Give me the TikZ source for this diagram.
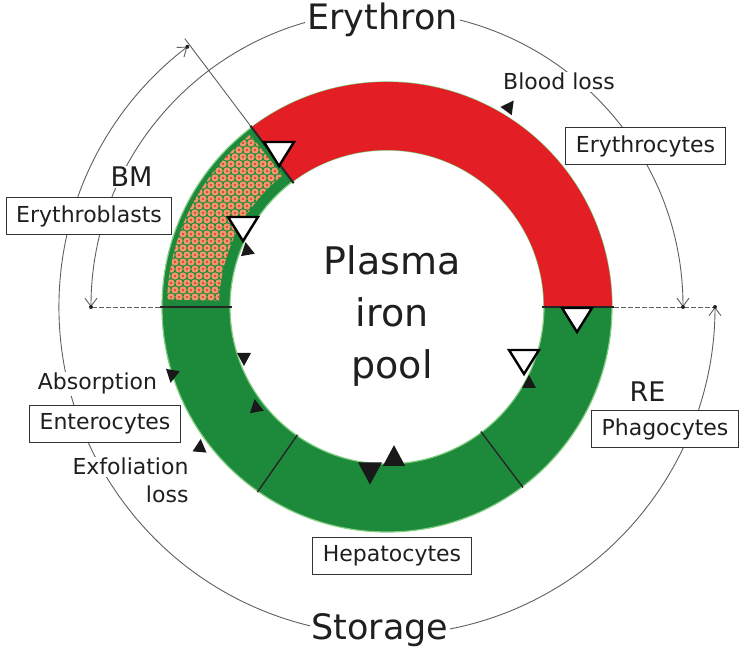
\documentclass[tikz,border=0pt]{standalone}
\usepackage{fontspec}
\setmainfont{DejaVu Sans}
\usetikzlibrary{arrows.meta,calc}
\definecolor{ringred}{RGB}{227,30,36}
\definecolor{ringgreen}{RGB}{28,138,58}
\definecolor{ringedge}{RGB}{130,205,130}
\definecolor{cellfill}{RGB}{242,150,108}
\definecolor{cellcore}{RGB}{214,52,40}
\definecolor{guidegray}{RGB}{95,95,95}
\tikzset{opengate/.pic={\draw[line width=2.4pt,fill=white,line join=miter]
    (-15,8) -- (15,8) -- (0,-16) -- cycle;},
  flowtip/.pic={\fill[black!90] (-7,-5) -- (7,-5) -- (0,8) -- cycle;}}

\begin{document}
\begin{tikzpicture}[x=1pt,y=1pt,text=black!88,
    guide/.style={draw=guidegray,line width=0.9pt},
    span/.style={guide,{Straight Barb[length=8pt,width=12pt]}-{Straight Barb[length=8pt,width=12pt]}},
    cellbox/.style={draw=black!80,line width=1.1pt,fill=white,inner xsep=10pt,
        minimum height=37pt,font=\fontsize{22}{26}\selectfont},
    smalltext/.style={fill=white,inner sep=1.5pt,font=\fontsize{22}{26}\selectfont},
    sitetext/.style={fill=white,inner sep=1.5pt,font=\fontsize{27}{30}\selectfont},
    bigtext/.style={fill=white,inner sep=2pt,font=\fontsize{35}{40}\selectfont},
    divider/.style={line width=2pt,black!85}]
\useasboundingbox (-387,-345) rectangle (355,307);

% guide lines and the two spans
\coordinate (bmcut) at (127:336);
\coordinate (erystart) at (0:296);
\coordinate (eryend) at (180:296);
\coordinate (stostart) at (127.5:328);
\coordinate (stoend) at (0:328);
\draw[guide] (127:227) -- (bmcut);
\draw[guide,dash pattern=on 5pt off 2pt] (180:227) -- (eryend);
\draw[guide,dash pattern=on 5pt off 2pt] (0:227) -- (stoend);
\draw[span] (erystart) arc[start angle=0,end angle=180,radius=296];
\draw[span] (stostart) arc[start angle=127.5,end angle=360,radius=328];
\foreach \p in {erystart,eryend,stostart,stoend}
    \fill[black!85] (\p) circle[radius=2];

% labels
\node[bigtext,anchor=base] (erythron) at (-4.5,277) {Erythron};
\node[bigtext,anchor=base] (storage) at (-7,-333) {Storage};
\node[smalltext,anchor=base] (bloodloss) at (172,217) {Blood loss};
\node[cellbox] (erythrocytes) at (258.5,161) {Erythrocytes};
\node[sitetext,anchor=base] (bm) at (-255.5,120) {BM};
\node[cellbox] (erythroblasts) at (-298,91) {Erythroblasts};
\node[smalltext,anchor=base] (absorption) at (-289.5,-83) {Absorption};
\node[cellbox] (enterocytes) at (-282,-117) {Enterocytes};
\node[smalltext,anchor=base] (exfol) at (-256.5,-168) {Exfoliation};
\node[smalltext,anchor=base east] (exloss) at (exfol.base east |- 0,-196) {loss};
\node[sitetext,anchor=base] (re) at (260.5,-95) {RE};
\node[cellbox] (phagocytes) at (278,-122) {Phagocytes};
\node[cellbox] (hepatocytes) at (5,-249) {Hepatocytes};

% the ring
\fill[ringgreen,draw=ringedge,line width=1.2pt,even odd rule]
    (0,0) circle[radius=225] circle[radius=157];
\fill[ringred] (0:157) arc[start angle=0,end angle=127,radius=157]
    -- (127:225) arc[start angle=127,end angle=0,radius=225] -- cycle;
\begin{scope}
  \clip (128.5:168) arc[start angle=128.5,end angle=178,radius=168]
      -- (178:220) arc[start angle=178,end angle=128.5,radius=220] -- cycle;
  \foreach \j in {0,...,25}
    \foreach \i in {0,...,18} {
      \pgfmathsetmacro\xx{-228+8*\i+4*mod(\j,2)}
      \pgfmathsetmacro\yy{3+7*\j}
      \fill[cellfill] (\xx,\yy) circle[radius=3.7];
      \fill[cellcore] (\xx,\yy) circle[radius=1.1];
    }
\end{scope}
\draw[divider] (127:155) -- (127:227);
\draw[divider] (180:155) -- (180:227);
\draw[divider] (0:155) -- (0:227);
\draw[divider,line width=1.4pt] (235:156) -- (235:226);
\draw[divider,line width=1.4pt] (307:156) -- (307:226);

% gates and flow tips
\pic at (-108,157) {opengate};
\pic at (-144,82) {opengate};
\pic at (190,-9) {opengate};
\pic at (137,-51) {opengate};
\pic[rotate=-36] at (122,200) {flowtip};
\pic[rotate=10] at (-140,57) {flowtip};
\pic at (142,-76) {flowtip};
\pic[rotate=180] at (-143,-51) {flowtip};
\pic[rotate=10] at (-131,-100) {flowtip};
\pic[rotate=170] at (-215,-68) {flowtip};
\pic[rotate=-5] at (-187,-140) {flowtip};
\pic[rotate=180,scale=1.7] at (-17,-164) {flowtip};
\pic[scale=1.6] at (7,-151) {flowtip};

\node[font=\fontsize{38}{52}\selectfont,align=center] (pool) at (5,-9) {Plasma\\iron\\pool};
\end{tikzpicture}
\end{document}
